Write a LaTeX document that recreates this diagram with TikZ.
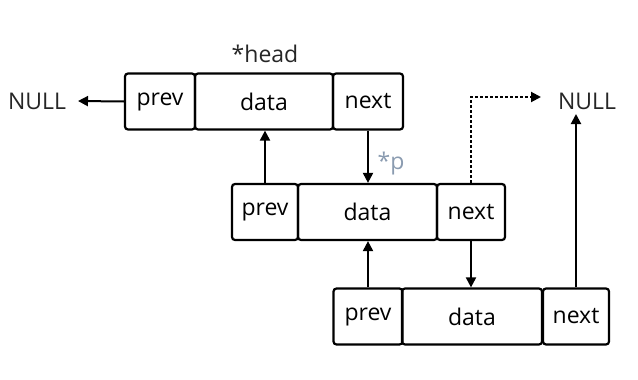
\documentclass[tikz,border=0pt]{standalone}
\usepackage{fontspec}
\setmainfont{Open Sans}
\usetikzlibrary{arrows.meta}
\definecolor{pgray}{HTML}{8A9BB0}
\begin{document}
\begin{tikzpicture}[x=1pt,y=-1pt,
  cell/.style={draw=black,line width=2.2pt,rounded corners=3pt,inner sep=0pt,
    minimum height=56pt,font=\fontsize{23}{26}\selectfont,text=black},
  lbl/.style={font=\fontsize{23}{26}\selectfont,text=black!85,inner sep=0pt},
  arr/.style={line width=2pt,-{Triangle[length=10pt,width=10pt]}},
  dots/.style={arr,dash pattern=on 2.5pt off 2.5pt}]
\useasboundingbox (0,0) rectangle (638,380);
% node 1
\node[cell,minimum width=70pt] (p1) at (160,101.5) {prev};
\node[cell,minimum width=138pt] (d1) at (264,101.5) {data};
\node[cell,minimum width=70pt] (n1) at (368,101.5) {next};
% node 2
\node[cell,minimum width=66pt] (p2) at (265,212) {prev};
\node[cell,minimum width=139pt] (d2) at (367.5,212) {data};
\node[cell,minimum width=68pt] (n2) at (471,212) {next};
% node 3
\node[cell,minimum width=69pt] (p3) at (368,316.5) {prev};
\node[cell,minimum width=140pt] (d3) at (472,316.5) {data};
\node[cell,minimum width=66pt] (n3) at (576,316.5) {next};
% labels
\node[lbl] (head) at (265,54) {*head};
\node[lbl] (nullL) at (37,101) {NULL};
\node[lbl] (nullR) at (587,101) {NULL};
\node[lbl,text=pgray] (pp) at (391,164) {*p};
% arrows
\draw[arr] (p1.west) -- (78,101);
\draw[arr] (p2.north) -- (p2.north |- d1.south);
\draw[arr] (n1.south) -- (n1.south |- d2.north);
\draw[arr] (n2.south) -- (n2.south |- d3.north);
\draw[arr] (p3.north) -- (p3.north |- d2.south);
\coordinate (nrtop) at (576,114);
\draw[arr] (n3.north) -- (nrtop);
\coordinate (bend) at (471,97);
\draw[dots] (n2.north) -- (bend) -- (541,97);
\end{tikzpicture}
\end{document}
